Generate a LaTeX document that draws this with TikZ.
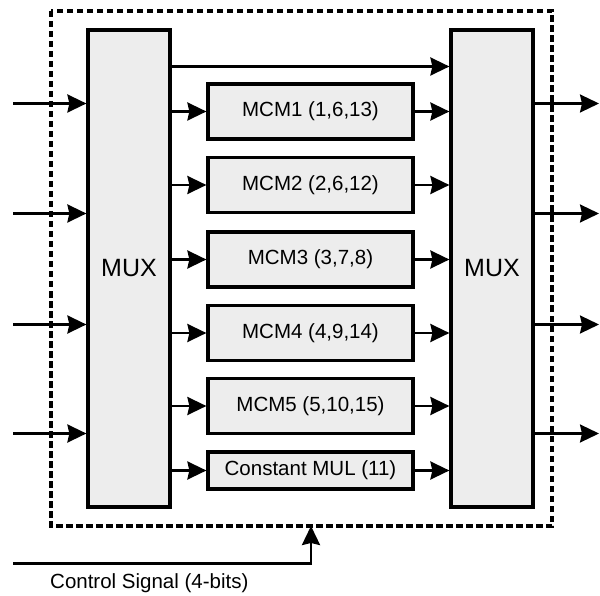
\documentclass[tikz,border=0pt]{standalone}
\usepackage{fontspec}
\setmainfont{Liberation Sans}
\usetikzlibrary{arrows.meta}
\begin{document}
\begin{tikzpicture}[x=1pt,y=-1pt,
  block/.style={draw=black,line width=3.2pt,fill=black!7,inner sep=0pt,font=\fontsize{20.5}{24}\selectfont},
  muxbox/.style={block,minimum width=82pt,minimum height=477pt,font=\fontsize{25}{30}\selectfont},
  mcm/.style={block,minimum width=205pt,minimum height=55pt},
  sig/.style={line width=2.6pt,-{Stealth[length=19pt,width=18pt,inset=2pt]}},
  frame/.style={line width=3.2pt,dash pattern=on 6.5pt off 3.5pt}]
  \useasboundingbox (0,0) rectangle (600,596);

  % enclosing dashed boundary
  \draw[frame] (51,11) rectangle (552,526);

  % multiplexers
  \node[muxbox] (muxL) at (129,268.5) {MUX};
  \node[muxbox] (muxR) at (492,268.5) {MUX};

  % multiplier blocks
  \node[mcm] (m1) at (310.5,111.5) {MCM1 (1,6,13)};
  \node[mcm] (m2) at (310.5,185) {MCM2 (2,6,12)};
  \node[mcm] (m3) at (310.5,259.5) {MCM3 (3,7,8)};
  \node[mcm] (m4) at (310.5,333) {MCM4 (4,9,14)};
  \node[mcm] (m5) at (310.5,406) {MCM5 (5,10,15)};
  \node[mcm,minimum height=37pt] (cm) at (310.5,470.5) {Constant MUL (11)};

  % bypass path
  \draw[sig] (muxL.east |- 0,66.5) -- (muxR.west |- 0,66.5);

  % paths through the multipliers
  \foreach \b in {m1,m2,m3,m4,m5,cm}{
    \draw[sig] (muxL.east |- \b.west) -- (\b.west);
    \draw[sig] (\b.east) -- (muxR.west |- \b.east);
  }

  % inputs and outputs
  \foreach \y [count=\i] in {103.5,213.5,324.5,433.5}{
    \coordinate (in\i) at (13,\y);
    \coordinate (out\i) at (599,\y);
    \draw[sig] (in\i) -- (muxL.west |- in\i);
    \draw[sig,line width=2.3pt] (muxR.east |- out\i) -- (out\i);
  }

  % control signal
  \coordinate (cs0) at (13,563.5);
  \coordinate (cs1) at (311,563.5);
  \coordinate (cs2) at (311,526);
  \draw[sig] (cs0) -- (cs1) -- (cs2);
  \node[anchor=west,inner sep=0pt,font=\fontsize{20.5}{24}\selectfont] (cstext) at (50,583) {Control Signal (4-bits)};
\end{tikzpicture}
\end{document}
